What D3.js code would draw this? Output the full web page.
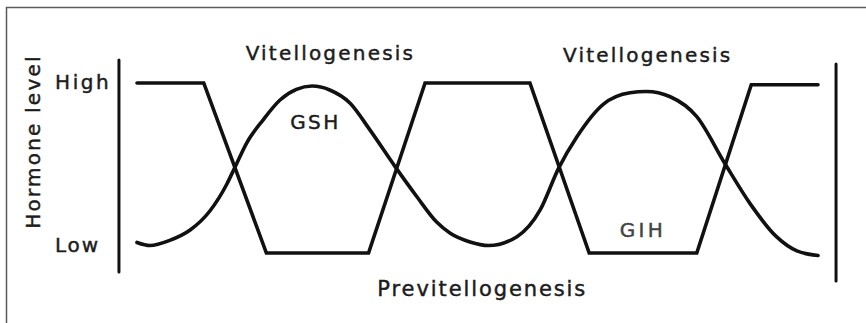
<!DOCTYPE html>
<html>
<head>
<meta charset="utf-8">
<script src="https://cdn.jsdelivr.net/npm/d3@7"></script>
<style>
  html, body { margin: 0; padding: 0; background: #fff; }
  svg text { font-family: "DejaVu Sans", sans-serif; fill: #1c1c1c; stroke: #1c1c1c; stroke-width: 0.45px; }
</style>
</head>
<body>
<svg id="chart" width="866" height="323"></svg>
<script>
// time along the cycle (0-100) and relative hormone level (0 = low, 1 = high)
const gihTime  = [0, 9.8, 19.0, 34.0, 42.3, 57.7, 66.4, 82.2, 90.2, 100];
const gihLevel = [1, 1, 0, 0, 1, 1, 0, 0, 0.99, 0.99];

const gshTime  = [0, 1.9, 4.8, 7.8, 10.7, 13.2, 14.4, 16.1, 18.5, 21.0, 23.4, 25.7, 28.3, 31.3, 34.2, 37.9,
                  41.1, 44.0, 46.0, 48.9, 51.6, 55.8, 59.2, 61.9, 64.6, 68.5, 72.4, 74.8, 78.3, 82.2, 86.3,
                  90.0, 93.9, 96.9, 100];
const gshLevel = [0.062, 0.044, 0.074, 0.135, 0.247, 0.406, 0.506, 0.647, 0.782, 0.9, 0.962, 0.982, 0.959, 0.881,
                  0.724, 0.508, 0.331, 0.182, 0.116, 0.065, 0.044, 0.096, 0.253, 0.498, 0.684, 0.876, 0.943,
                  0.95, 0.919, 0.802, 0.528, 0.292, 0.096, 0.012, -0.015];

const levelTicks  = ["High", "Low"];
const levelValues = [1, 0.045];

const phaseLabels = ["Vitellogenesis", "Vitellogenesis", "Previtellogenesis"];
const phaseTime   = [28.4, 75.0, 50.7];
const phaseLevel  = [1.135, 1.121, -0.251];

const hormoneLabels = ["GSH", "GIH"];
const hormoneTime   = [26.2, 74.3];
const hormoneLevel  = [0.728, 0.096];

// the two vertical bars either side of the plot
const barTime   = [-2.65, 102.65];
const barTop    = [1.135, 1.112];
const barBottom = [-0.112, -0.165];

const svg = d3.select("#chart");

const x = d3.scaleLinear().domain([0, 100]).range([137, 818]);
const y = d3.scaleLinear().domain([0, 1]).range([253, 83]);

// outer frame (only top and left edges are visible)
svg.append("path")
    .attr("d", "M6.5,323 V7.5 H866")
    .attr("fill", "none")
    .attr("stroke", "#5a5a5a")
    .attr("stroke-width", 1.5);

svg.selectAll(".bar")
    .data(barTime)
    .enter()
    .append("line")
    .attr("class", "bar")
    .attr("x1", d => x(d))
    .attr("x2", d => x(d))
    .attr("y1", (d, i) => y(barTop[i]))
    .attr("y2", (d, i) => y(barBottom[i]))
    .attr("stroke", "#111")
    .attr("stroke-width", 3)
    .attr("stroke-linecap", "round");

const gih = gihTime.map((t, i) => [t, gihLevel[i]]);
const gsh = gshTime.map((t, i) => [t, gshLevel[i]]);

svg.append("path")
    .datum(gih)
    .attr("d", d3.line().x(d => x(d[0])).y(d => y(d[1])))
    .attr("fill", "none")
    .attr("stroke", "#111")
    .attr("stroke-width", 3.6)
    .attr("stroke-linecap", "round");

svg.append("path")
    .datum(gsh)
    .attr("d", d3.line().x(d => x(d[0])).y(d => y(d[1])).curve(d3.curveMonotoneX))
    .attr("fill", "none")
    .attr("stroke", "#111")
    .attr("stroke-width", 3.6)
    .attr("stroke-linecap", "round");

// y tick labels, left aligned
svg.selectAll(".tick-label")
    .data(levelTicks)
    .enter()
    .append("text")
    .attr("class", "tick-label")
    .attr("x", 55)
    .attr("y", (d, i) => y(levelValues[i]))
    .attr("dy", "0.32em")
    .style("font-size", "20px")
    .style("letter-spacing", (d, i) => i === 0 ? "2.6px" : "1.8px")
    .text(d => d);

svg.append("text")
    .attr("transform", "translate(40,141.5) rotate(-90)")
    .attr("text-anchor", "middle")
    .style("font-size", "20px")
    .style("letter-spacing", "2.2px")
    .text("Hormone level");

svg.selectAll(".phase")
    .data(phaseLabels)
    .enter()
    .append("text")
    .attr("class", "phase")
    .attr("x", (d, i) => x(phaseTime[i]))
    .attr("y", (d, i) => y(phaseLevel[i]))
    .attr("text-anchor", "middle")
    .style("font-size", (d, i) => i === 2 ? "21px" : "20px")
    .style("letter-spacing", (d, i) => i === 2 ? "1.9px" : "2.2px")
    .text(d => d);

svg.selectAll(".hormone")
    .data(hormoneLabels)
    .enter()
    .append("text")
    .attr("class", "hormone")
    .attr("x", (d, i) => x(hormoneTime[i]))
    .attr("y", (d, i) => y(hormoneLevel[i]))
    .attr("text-anchor", "middle")
    .style("font-size", "20px")
    .style("letter-spacing", (d, i) => i === 0 ? "2.4px" : "3.4px")
    .style("fill", (d, i) => i === 0 ? "#1c1c1c" : "#444")
    .style("stroke", (d, i) => i === 0 ? "#1c1c1c" : "#444")
    .text(d => d);
</script>
</body>
</html>
